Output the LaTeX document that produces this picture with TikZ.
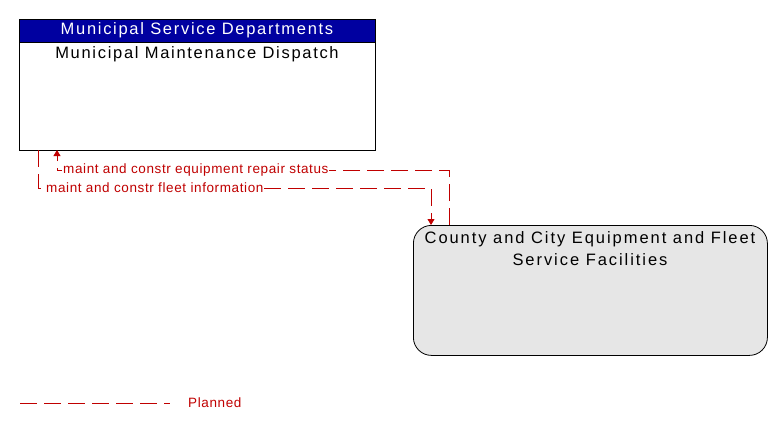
\documentclass[tikz,border=0pt]{standalone}
\usepackage{fontspec}
\setmainfont{Liberation Sans}
\newfontfamily\bigfont[LetterSpace=10.3]{Liberation Sans}
\newfontfamily\boxfont[LetterSpace=11.8]{Liberation Sans}
\newfontfamily\smallfont[LetterSpace=4.5]{Liberation Sans}
\usetikzlibrary{arrows.meta}
\definecolor{hdrblue}{RGB}{0,0,160}
\definecolor{flowred}{RGB}{192,0,0}
\definecolor{boxgray}{RGB}{230,230,230}
\begin{document}
\begin{tikzpicture}[x=1pt,y=-1pt,
  planned/.style={draw=flowred, line width=0.8pt, dash pattern=on 17pt off 7pt},
  bigtext/.style={font=\bigfont\fontsize{16.5}{22}\selectfont, inner sep=0pt},
  flowlabel/.style={text=flowred, fill=white, inner sep=1pt, font=\smallfont\fontsize{13.5}{15}\selectfont, anchor=west},
  tip/.style={-{Triangle[length=6pt,width=7pt]}}]
\useasboundingbox (0,0) rectangle (783,431);
% top box
\node[draw, line width=0.8pt, minimum width=356pt, minimum height=131pt, anchor=north west, inner sep=0pt] (mmd) at (19,19) {};
\fill[hdrblue] (19,19) rectangle (375,42);
\draw[line width=0.8pt] (mmd.north west) rectangle (mmd.south east);
\draw[line width=0.8pt] (19,42) -- (375,42);
\node[bigtext, text=white] (hdr) at (197,30.5) {Municipal Service Departments};
\node[bigtext] (mmdname) at (197,54) {Municipal Maintenance Dispatch};
% bottom box
\node[draw, fill=boxgray, rounded corners=18pt, line width=0.8pt, minimum width=354pt, minimum height=130pt, anchor=north west, inner sep=0pt] (cce) at (413,225) {};
\node[font=\boxfont\fontsize{16.5}{22}\selectfont, inner sep=0pt, align=center] (ccename) at (590,249) {County and City Equipment and Fleet\\Service Facilities};
% coordinates
\coordinate (a1) at (449,225);
\coordinate (a2) at (449,170);
\coordinate (a3) at (57,170);
\coordinate (a4) at (57,150);
\coordinate (b1) at (38,150);
\coordinate (b2) at (38,188);
\coordinate (b3) at (431,188);
\coordinate (b4) at (431,225);
\draw[planned, tip] (a1) -- (a2) -- (a3) -- (a4);
\draw[planned, tip] (b1) -- (b2) -- (b3) -- (b4);
\node[flowlabel] (l1) at (62,170) {maint and constr equipment repair status};
\node[flowlabel] (l2) at (45,188) {maint and constr fleet information};
% legend
\coordinate (lg1) at (20,403);
\coordinate (lg2) at (170,403);
\draw[planned] (lg1) -- (lg2);
\node[text=flowred, font=\smallfont\fontsize{13.5}{15}\selectfont, anchor=west, inner sep=0pt] (lgt) at (188,403) {Planned};
\end{tikzpicture}
\end{document}
